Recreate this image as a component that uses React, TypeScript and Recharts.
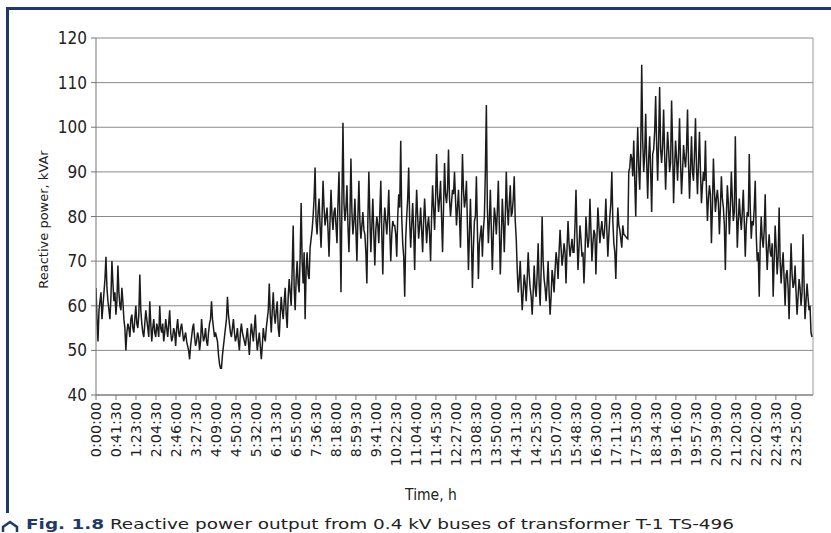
import { LineChart, Line, XAxis, YAxis, CartesianGrid, ReferenceLine, Label } from 'recharts'

// tick labels of the category axis (every 83rd sample in the source)
const TIME_LABELS = [
  '0:00:00', '0:41:30', '1:23:00', '2:04:30', '2:46:00', '3:27:30', '4:09:00', '4:50:30',
  '5:32:00', '6:13:30', '6:55:00', '7:36:30', '8:18:00', '8:59:30', '9:41:00', '10:22:30',
  '11:04:00', '11:45:30', '12:27:00', '13:08:30', '13:50:00', '14:31:30', '14:25:30', '15:07:00',
  '15:48:30', '16:30:00', '17:11:30', '17:53:00', '18:34:30', '19:16:00', '19:57:30', '20:39:00',
  '21:20:30', '22:02:00', '22:43:30', '23:25:00',
]

const Y_TICKS = [40, 50, 60, 70, 80, 90, 100, 110, 120]

// reactive power, kVAr, one row per hour (30 samples)
const POWER = [
  64, 57, 52, 59, 61, 63, 57, 60, 63, 66, 71, 64, 61, 59, 57, 62, 70, 65, 61, 63, 58, 61, 69, 63, 60, 59, 64, 61, 57, 55,
  50, 54, 56, 55, 53, 57, 58, 55, 54, 57, 60, 56, 55, 58, 67, 59, 56, 54, 53, 56, 59, 57, 55, 53, 61, 56, 52, 55, 57, 54,
  53, 56, 55, 53, 60, 55, 54, 56, 52, 54, 57, 55, 53, 56, 59, 54, 52, 53, 55, 54, 51, 55, 57, 54, 53, 55, 56, 54, 52, 53,
  54, 52, 51, 50, 48, 51, 53, 55, 56, 53, 51, 52, 54, 53, 50, 52, 57, 54, 52, 53, 55, 52, 51, 54, 56, 57, 61, 57, 55, 53,
  54, 53, 52, 49, 47, 46, 46, 49, 51, 53, 55, 57, 62, 58, 56, 54, 53, 55, 57, 54, 52, 53, 55, 52, 50, 54, 56, 54, 53, 52,
  51, 53, 55, 52, 49, 53, 56, 54, 52, 55, 58, 53, 50, 52, 54, 51, 48, 51, 55, 53, 52, 55, 57, 59, 65, 58, 54, 59, 63, 58,
  56, 59, 61, 55, 53, 58, 62, 59, 57, 61, 64, 58, 55, 62, 66, 63, 60, 68, 78, 64, 59, 66, 70, 65, 63, 71, 83, 70, 65, 72,
  57, 68, 72, 67, 66, 73, 75, 77, 80, 84, 91, 79, 76, 81, 84, 78, 73, 80, 88, 82, 78, 80, 82, 77, 71, 79, 86, 80, 77, 81,
  82, 78, 74, 83, 90, 79, 63, 84, 101, 83, 79, 82, 87, 78, 72, 80, 93, 81, 76, 79, 84, 77, 70, 80, 88, 79, 75, 78, 81, 77,
  76, 72, 65, 79, 90, 80, 72, 78, 84, 76, 69, 77, 80, 78, 74, 81, 88, 76, 67, 78, 82, 79, 76, 80, 86, 77, 70, 76, 79, 78,
  78, 76, 71, 80, 85, 82, 97, 80, 74, 71, 62, 75, 80, 84, 91, 79, 73, 78, 83, 77, 68, 79, 86, 80, 75, 78, 82, 77, 72, 79,
  84, 79, 74, 78, 80, 76, 70, 80, 87, 82, 77, 84, 94, 85, 81, 84, 88, 80, 72, 82, 92, 85, 83, 86, 95, 84, 80, 83, 86, 85,
  90, 84, 78, 82, 86, 80, 73, 83, 94, 86, 82, 84, 88, 78, 68, 76, 84, 75, 64, 73, 79, 80, 89, 77, 66, 74, 76, 78, 71, 77,
  80, 90, 105, 82, 74, 79, 86, 77, 68, 76, 82, 80, 76, 81, 88, 78, 67, 75, 84, 79, 72, 80, 90, 82, 78, 83, 87, 80, 81, 84,
  89, 79, 75, 68, 63, 66, 70, 64, 59, 63, 67, 65, 61, 66, 72, 67, 64, 62, 58, 63, 69, 64, 62, 67, 74, 65, 60, 68, 80, 70,
  66, 64, 61, 65, 70, 63, 58, 62, 68, 66, 63, 68, 72, 70, 66, 72, 77, 73, 69, 71, 74, 72, 65, 73, 79, 74, 71, 73, 75, 72,
  72, 78, 86, 76, 68, 73, 78, 75, 71, 72, 65, 71, 80, 76, 73, 75, 84, 77, 70, 74, 77, 76, 67, 75, 82, 78, 74, 77, 79, 76,
  75, 78, 84, 77, 71, 76, 80, 83, 90, 79, 74, 72, 66, 75, 82, 78, 77, 75, 73, 78, 76, 75.8, 75.5, 75.2, 75, 90, 91, 94, 93, 89,
  97, 88, 80, 92, 100, 91, 86, 95, 114, 97, 90, 94, 103, 92, 84, 93, 98, 90, 81, 94, 95, 99, 107, 96, 88, 97, 109, 95, 92, 96,
  104, 94, 86, 93, 99, 95, 90, 92, 106, 96, 83, 91, 97, 93, 88, 94, 102, 92, 85, 90, 96, 93, 91, 95, 104, 92, 84, 91, 98, 90,
  88, 94, 102, 91, 85, 92, 99, 90, 83, 87, 90, 88, 97, 86, 79, 84, 87, 85, 74, 82, 93, 86, 81, 84, 86, 83, 76, 82, 89, 84,
  82, 78, 68, 80, 87, 83, 76, 82, 90, 84, 79, 81, 98, 83, 73, 79, 84, 80, 77, 81, 86, 79, 71, 78, 81, 80, 94, 82, 75, 79,
  78, 82, 88, 76, 70, 72, 62, 74, 80, 75, 73, 77, 85, 74, 68, 73, 76, 72, 71, 74, 62, 70, 78, 73, 67, 71, 82, 70, 65, 69,
  72, 66, 60, 67, 68, 64, 57, 66, 74, 67, 64, 65, 69, 63, 58, 62, 66, 64, 60, 63, 76, 65, 57, 61, 65, 62, 59, 60, 54, 53,
]

const SAMPLES = 720
const TICK_STEP = 20.08 // samples between two labelled ticks

const data = POWER.map((v, i) => ({ i, v }))
const xTicks = TIME_LABELS.map((_, k) => k * TICK_STEP)

const NARROW = "'DejaVu Sans Condensed', 'Liberation Sans Narrow', sans-serif"
const WIDE = "'DejaVu Sans', sans-serif"
const NAVY = '#1f3a68'
const CAPTION = 'Reactive power output from 0.4 kV buses of transformer T-1 TS-496'

function TimeTick({ x, y, payload }: { x?: number; y?: number; payload?: { value: number } }) {
  const label = TIME_LABELS[Math.round((payload?.value ?? 0) / TICK_STEP)]
  return (
    <text
      transform={`translate(${x},${y}) rotate(-90)`}
      textAnchor="end"
      dominantBaseline="central"
      fontFamily={WIDE}
      fontSize={14.3}
      fill="#222"
    >
      {label}
    </text>
  )
}

function YTitle({ viewBox }: any) {
  const cx = 43
  const cy = viewBox.y + viewBox.height / 2 + 3
  return (
    <text
      transform={`translate(${cx},${cy}) rotate(-90)`}
      textAnchor="middle"
      dominantBaseline="central"
      fontFamily={WIDE}
      fontSize={13}
      fill="#222"
    >
      Reactive power, kVAr
    </text>
  )
}

function XTitle() {
  return (
    <text x={431} y={500} textAnchor="middle" fontFamily={NARROW} fontSize={15.5} fill="#222">
      Time, h
    </text>
  )
}

export default function App() {
  return (
    <div style={{ position: 'fixed', left: 0, top: 0, width: 831, height: 533, overflow: 'hidden', background: '#fff' }}>
      <div style={{ position: 'absolute', left: 6, top: 7, right: 0, height: 2.5, background: NAVY }} />
      <div style={{ position: 'absolute', left: 6, top: 7, width: 2.5, height: 506, background: NAVY }} />
      <div style={{ position: 'absolute', left: 0, top: 0 }}>
        <LineChart width={831} height={533} data={data} margin={{ top: 38, right: 18, bottom: 0, left: 0 }}>
          <CartesianGrid vertical={false} stroke="#8a8a8a" strokeWidth={1} />
          <XAxis
            type="number"
            dataKey="i"
            domain={[0, SAMPLES]}
            ticks={xTicks}
            interval={0}
            tick={<TimeTick />}
            tickSize={5}
            tickMargin={2}
            height={138}
            stroke="#777"
            allowDataOverflow
          >
            <Label content={<XTitle />} />
          </XAxis>
          <YAxis
            type="number"
            domain={[40, 120]}
            ticks={Y_TICKS}
            interval={0}
            width={96}
            tickSize={5}
            tickMargin={4}
            stroke="#777"
            tick={{ fontFamily: NARROW, fontSize: 17, fill: '#222' }}
          >
            <Label content={<YTitle />} />
          </YAxis>
          <ReferenceLine x={SAMPLES} stroke="#999" />
          <Line
            type="linear"
            dataKey="v"
            stroke="#1b1b1b"
            strokeWidth={1.5}
            dot={false}
            isAnimationActive={false}
          />
        </LineChart>
      </div>
      <svg style={{ position: 'absolute', left: 0, top: 508 }} width={831} height={25}>
        <polyline points="3,24 3,19 10,14 17,19 17,24" fill="none" stroke={NAVY} strokeWidth={2.5} />
        <text
          x={26}
          y={20.5}
          fontFamily={NARROW}
          fontSize={14.5}
          fill="#222"
          textLength={708}
          lengthAdjust="spacingAndGlyphs"
        >
          <tspan fontWeight={700} fill={NAVY}>Fig. 1.8</tspan> {CAPTION}
        </text>
      </svg>
    </div>
  )
}
